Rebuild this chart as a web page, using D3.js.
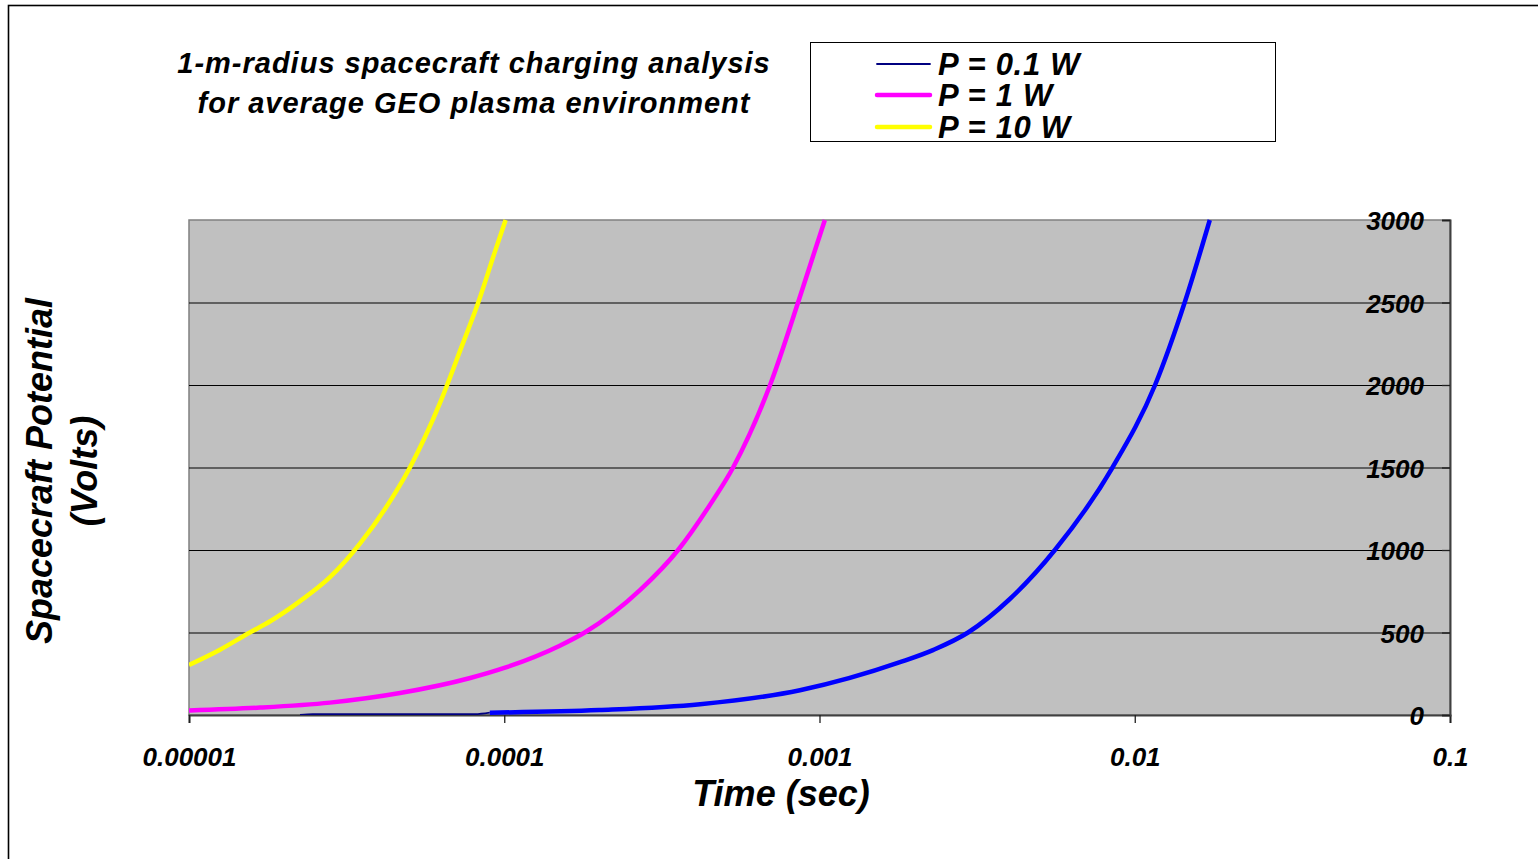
<!DOCTYPE html>
<html>
<head>
<meta charset="utf-8">
<script src="https://cdn.jsdelivr.net/npm/d3@7/dist/d3.min.js"></script>
<style>
  body { margin: 0; background: #fff; }
  svg text { font-family: "Liberation Sans", Arial, sans-serif; font-weight: bold; font-style: italic; fill: #000; }
</style>
</head>
<body>
<div id="chart"></div>
<script>
// data: time (s) and potential (V)
var yellowT = [1e-5, 1.25e-5, 1.56e-5, 1.81e-5, 2.25e-5, 2.8e-5, 3.49e-5, 4.19e-5, 5.02e-5, 6.25e-5, 7.35e-5, 8.27e-5, 9.35e-5, 1.01e-4];
var yellowV = [303, 394, 500, 568, 690, 835, 1040, 1250, 1500, 1890, 2240, 2500, 2810, 3000];

var magentaT = [1e-5, 1.68e-5, 2.8e-5, 4.67e-5, 7.8e-5, 1e-4, 1.5e-4, 1.8e-4, 2.7e-4, 3.56e-4, 4.48e-4, 5.32e-4, 6.97e-4, 8.55e-4, 9.5e-4, 1.04e-3];
var magentaV = [28, 45, 75, 133, 224, 285, 420, 500, 758, 1000, 1270, 1500, 2000, 2500, 2770, 3000];

var blueT = [9e-5, 2e-4, 4.18e-4, 8.67e-4, 1.8e-3, 2.3e-3, 2.96e-3, 4.0e-3, 5.58e-3, 8.5e-3, 0.0116, 0.0144, 0.0173];
var blueV = [14, 30, 65, 150, 320, 395, 500, 700, 1000, 1500, 2000, 2500, 3000];

// thin low segment of the 0.1 W run
var navyT = [2.25e-5, 2.47e-5, 8.08e-5, 9e-5];
var navyV = [0, 5, 5, 14];

var xTicks = [1e-5, 1e-4, 1e-3, 1e-2, 1e-1];
var xTickLabels = ["0.00001", "0.0001", "0.001", "0.01", "0.1"];
var yTicks = [0, 500, 1000, 1500, 2000, 2500, 3000];
var legendLabels = ["P = 0.1 W", "P = 1 W", "P = 10 W"];
var titleLines = ["1-m-radius spacecraft charging analysis", "for average GEO plasma environment"];

var width = 1538, height = 859;
var pLeft = 189, pRight = 1450, pTop = 220, pBottom = 715;

var svg = d3.select("#chart").append("svg")
    .attr("width", width)
    .attr("height", height);

// outer frame (cut off at right and bottom)
svg.append("rect")
    .attr("x", 8.5).attr("y", 5.5)
    .attr("width", 1700).attr("height", 1000)
    .attr("fill", "none").attr("stroke", "#000").attr("stroke-width", 1.6);

var xScale = d3.scaleLog().domain([1e-5, 1e-1]).range([pLeft, pRight]);
var yScale = d3.scaleLinear().domain([0, 3000]).range([pBottom, pTop]);

// plot background
svg.append("rect")
    .attr("x", pLeft).attr("y", pTop)
    .attr("width", pRight - pLeft).attr("height", pBottom - pTop)
    .attr("fill", "#c0c0c0")
    .attr("stroke", "#808080").attr("stroke-width", 1.5);

// gridlines
svg.selectAll(".grid")
    .data(yTicks.slice(1, -1))
    .enter()
    .append("line")
    .attr("x1", pLeft).attr("x2", pRight)
    .attr("y1", function(d) { return yScale(d) + 0.5; })
    .attr("y2", function(d) { return yScale(d) + 0.5; })
    .attr("stroke", "#000").attr("stroke-width", 1);

// x axis
var xAxis = d3.axisBottom(xScale)
    .tickValues(xTicks)
    .tickSize(8)
    .tickFormat(function(d, i) { return xTickLabels[i]; });

var gx = svg.append("g")
    .attr("transform", "translate(0," + pBottom + ")")
    .call(xAxis);
gx.select(".domain").attr("stroke", "#404040").attr("stroke-width", 2);
gx.selectAll(".tick line").attr("stroke", "#202020").attr("stroke-width", 1.3);
gx.selectAll(".tick text")
    .style("font-size", "26px")
    .attr("dy", null)
    .attr("y", 51);

// y axis, on the right with labels inside
var yAxis = d3.axisLeft(yScale)
    .tickValues(yTicks)
    .tickSize(8)
    .tickFormat(d3.format("d"));

var gy = svg.append("g")
    .attr("transform", "translate(" + pRight + ",0)")
    .call(yAxis);
gy.select(".domain").attr("stroke", "#404040").attr("stroke-width", 2);
gy.selectAll(".tick line").attr("stroke", "#202020").attr("stroke-width", 1.3);
gy.selectAll(".tick text")
    .style("font-size", "26px")
    .attr("x", -26)
    .attr("dy", "0.38em");

// curves
svg.append("clipPath").attr("id", "clip")
    .append("rect")
    .attr("x", pLeft).attr("y", pTop - 1)
    .attr("width", pRight - pLeft).attr("height", pBottom - pTop + 1);

var line = d3.line()
    .x(function(d) { return xScale(d[0]); })
    .y(function(d) { return yScale(d[1]); })
    .curve(d3.curveMonotoneX);

function pairs(t, v) {
    return t.map(function(d, i) { return [d, v[i]]; });
}

var series = [
    { data: pairs(navyT, navyV), color: "#000080", w: 1.8 },
    { data: pairs(yellowT, yellowV), color: "#ffff00", w: 4.5 },
    { data: pairs(magentaT, magentaV), color: "#ff00ff", w: 4.5 },
    { data: pairs(blueT, blueV), color: "#0000ff", w: 4.5 }
];

svg.append("g")
    .attr("clip-path", "url(#clip)")
    .selectAll("path")
    .data(series)
    .enter()
    .append("path")
    .attr("d", function(d) { return line(d.data); })
    .attr("fill", "none")
    .attr("stroke", function(d) { return d.color; })
    .attr("stroke-width", function(d) { return d.w; })
    .attr("stroke-linejoin", "round");

// title
svg.selectAll(".title")
    .data(titleLines)
    .enter()
    .append("text")
    .attr("x", 474)
    .attr("y", function(d, i) { return 73 + i * 40; })
    .attr("text-anchor", "middle")
    .style("font-size", "29px")
    .style("letter-spacing", "1px")
    .text(function(d) { return d; });

// legend
svg.append("rect")
    .attr("x", 810.5).attr("y", 42.5)
    .attr("width", 465).attr("height", 99)
    .attr("fill", "#fff").attr("stroke", "#000").attr("stroke-width", 1);

var legendColors = ["#000080", "#ff00ff", "#ffff00"];
var legendWidths = [1.8, 4.5, 4.5];
var legendY = [64, 95, 127];

svg.selectAll(".leg-line")
    .data(legendLabels)
    .enter()
    .append("line")
    .attr("x1", 877).attr("x2", 930)
    .attr("y1", function(d, i) { return legendY[i]; })
    .attr("y2", function(d, i) { return legendY[i]; })
    .attr("stroke", function(d, i) { return legendColors[i]; })
    .attr("stroke-width", function(d, i) { return legendWidths[i]; })
    .attr("stroke-linecap", "round");

svg.selectAll(".leg-text")
    .data(legendLabels)
    .enter()
    .append("text")
    .attr("x", 938)
    .attr("y", function(d, i) { return legendY[i] + 11; })
    .style("font-size", "31px")
    .style("letter-spacing", "0.7px")
    .text(function(d) { return d; });

// axis titles
svg.append("text")
    .attr("x", 781).attr("y", 806)
    .attr("text-anchor", "middle")
    .style("font-size", "36px")
    .text("Time (sec)");

var yTitle = svg.append("g")
    .attr("transform", "translate(52,471) rotate(-90)");
yTitle.append("text")
    .attr("text-anchor", "middle")
    .style("font-size", "36px")
    .text("Spacecraft Potential");
yTitle.append("text")
    .attr("y", 45)
    .attr("text-anchor", "middle")
    .style("font-size", "36px")
    .text("(Volts)");
</script>
</body>
</html>
